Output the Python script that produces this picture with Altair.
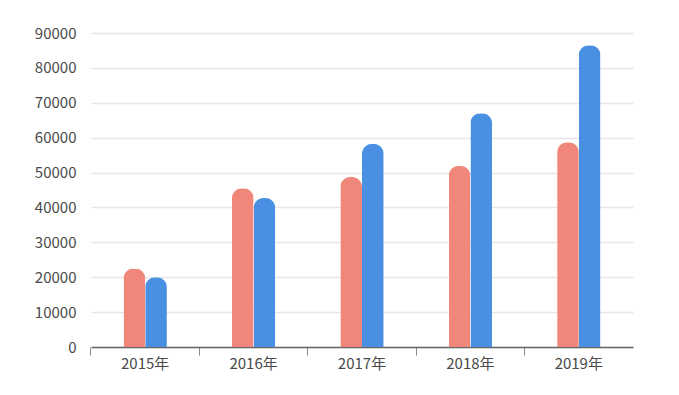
import altair as alt
import pandas as pd

years = ["2015年", "2016年", "2017年", "2018年", "2019年"]
series = ["A", "B"]
values_a = [22500, 45500, 48700, 51900, 58700]
values_b = [20000, 42700, 58200, 67000, 86500]
colors = ["#F0877A", "#4A90E2"]

rows = []
for i, y in enumerate(years):
    rows.append({"year": y, "series": "A", "value": values_a[i]})
    rows.append({"year": y, "series": "B", "value": values_b[i]})
df = pd.DataFrame(rows)

font = "Noto Sans CJK SC"

chart = alt.Chart(df).mark_bar(
    cornerRadiusTopLeft=10, cornerRadiusTopRight=10
).encode(
    x=alt.X("year:N", sort=years, title=None,
            scale=alt.Scale(paddingInner=0.6, paddingOuter=0.3),
            axis=alt.Axis(labelAngle=0, bandPosition=-0.75, labelOffset=0,
                          ticks=True, tickSize=8,
                          tickColor="#888", domainColor="#666", domainWidth=1.5,
                          labelPadding=1, labelFontSize=15, labelColor="#4a4a4a",
                          labelFont=font, grid=False)),
    xOffset=alt.XOffset("series:N", sort=series,
                        scale=alt.Scale(paddingInner=0, paddingOuter=0)),
    y=alt.Y("value:Q", title=None,
            scale=alt.Scale(domain=[0, 90000]),
            axis=alt.Axis(values=list(range(0, 90001, 10000)), domain=False, ticks=False,
                          labelPadding=15, labelFontSize=15, labelColor="#4a4a4a",
                          labelFont=font, gridColor="#e6e6e6", gridWidth=1.5,
                          format="d")),
    color=alt.Color("series:N", sort=series,
                    scale=alt.Scale(domain=series, range=colors), legend=None),
).properties(
    width=542, height=314,
    autosize=alt.AutoSizeParams(type="none"),
    padding={"left": 83, "top": 25, "right": 38, "bottom": 40},
    background="white",
).configure_view(stroke=None)

chart.save("out.html", embed_options={"renderer": "svg", "actions": False})
